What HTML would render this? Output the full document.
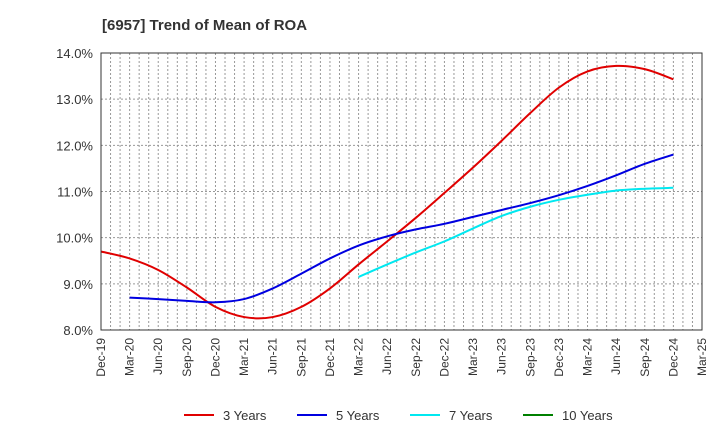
<!DOCTYPE html>
<html><head><meta charset="utf-8"><style>
body{margin:0;background:#fff;font-family:"Liberation Sans",Arial,sans-serif}
</style></head><body>
<svg id="c" width="720" height="440" xmlns="http://www.w3.org/2000/svg">
<text x="102" y="30" font-size="15" font-weight="bold" fill="#333">[6957]  Trend of Mean of ROA</text>
<g id="grid"></g><g id="series"></g><g id="axes"></g><g id="legend"></g>
</svg>
<script>
const xLabels=["Dec-19","Mar-20","Jun-20","Sep-20","Dec-20","Mar-21","Jun-21","Sep-21","Dec-21","Mar-22","Jun-22","Sep-22","Dec-22","Mar-23","Jun-23","Sep-23","Dec-23","Mar-24","Jun-24","Sep-24","Dec-24","Mar-25"];
const yTicks=[8,9,10,11,12,13,14];
const s3=[9.7,9.55,9.3,8.92,8.5,8.28,8.28,8.5,8.9,9.42,9.92,10.43,10.97,11.52,12.1,12.7,13.25,13.6,13.72,13.65,13.43];
const s5=[null,8.7,8.67,8.63,8.6,8.67,8.9,9.22,9.55,9.83,10.03,10.18,10.3,10.45,10.6,10.75,10.92,11.12,11.35,11.6,11.8];
const s7=[null,null,null,null,null,null,null,null,null,9.15,9.42,9.68,9.92,10.2,10.47,10.67,10.82,10.93,11.02,11.06,11.08];
const s10=[];
const seriesNames=["3 Years","5 Years","7 Years","10 Years"];
const colors=["#e00000","#0000e0","#00e8f0","#008000"];
const L=101,R=702,T=53,B=330,ymin=8,ymax=14;
const X=i=>L+(R-L)*i/(xLabels.length-1);
const Y=v=>B-(v-ymin)/(ymax-ymin)*(B-T);
const NS="http://www.w3.org/2000/svg";
function mk(t,a,p){const e=document.createElementNS(NS,t);for(const k in a)e.setAttribute(k,a[k]);p.appendChild(e);return e;}
const g=document.getElementById('grid'),ax=document.getElementById('axes'),sg=document.getElementById('series'),lg=document.getElementById('legend');
for(let m=1;m<(xLabels.length-1)*3;m++){const x=L+(R-L)*m/((xLabels.length-1)*3);
const l=mk('line',{x1:x,x2:x,y1:T,y2:B,stroke:'#999','stroke-dasharray':'2,2','stroke-width':1},g);
}
yTicks.forEach(v=>{const y=Y(v);
const l=mk('line',{x1:L,x2:R,y1:y,y2:y,stroke:'#999','stroke-dasharray':'2,2'},g);

const t=mk('text',{x:L-8,y:y+5,'text-anchor':'end','font-size':13,fill:'#333'},ax);t.textContent=v.toFixed(1)+'%';
});
const fr=mk('rect',{x:L,y:T,width:R-L,height:B-T,fill:'none',stroke:'#333','stroke-width':1},ax);

xLabels.forEach((s,i)=>{const x=X(i);const t=mk('text',{x:0,y:0,'text-anchor':'end','font-size':12,fill:'#333',transform:`translate(${x+4},${B+8}) rotate(-90)`},ax);t.textContent=s;
});
function path(arr){const p=[];arr.forEach((v,i)=>{if(v!=null)p.push([X(i),Y(v)]);});if(p.length<2)return '';
let d=`M${p[0][0]},${p[0][1]}`;for(let i=0;i<p.length-1;i++){const p0=p[i-1]||p[i],p1=p[i],p2=p[i+1],p3=p[i+2]||p2;
d+=` C${p1[0]+(p2[0]-p0[0])/6},${p1[1]+(p2[1]-p0[1])/6} ${p2[0]-(p3[0]-p1[0])/6},${p2[1]-(p3[1]-p1[1])/6} ${p2[0]},${p2[1]}`;}return d;}
[s3,s5,s7,s10].forEach((s,k)=>{const d=path(s);if(!d)return;const e=mk('path',{d,fill:'none',stroke:colors[k],'stroke-width':2},sg);
});
seriesNames.forEach((n,k)=>{const x=184+113*k,y=415;
const l=mk('line',{x1:x,x2:x+30,y1:y,y2:y,stroke:colors[k],'stroke-width':2},lg);

const t=mk('text',{x:x+39,y:y+5,'font-size':13,fill:'#333'},lg);t.textContent=n;
});
</script>
</body></html>
